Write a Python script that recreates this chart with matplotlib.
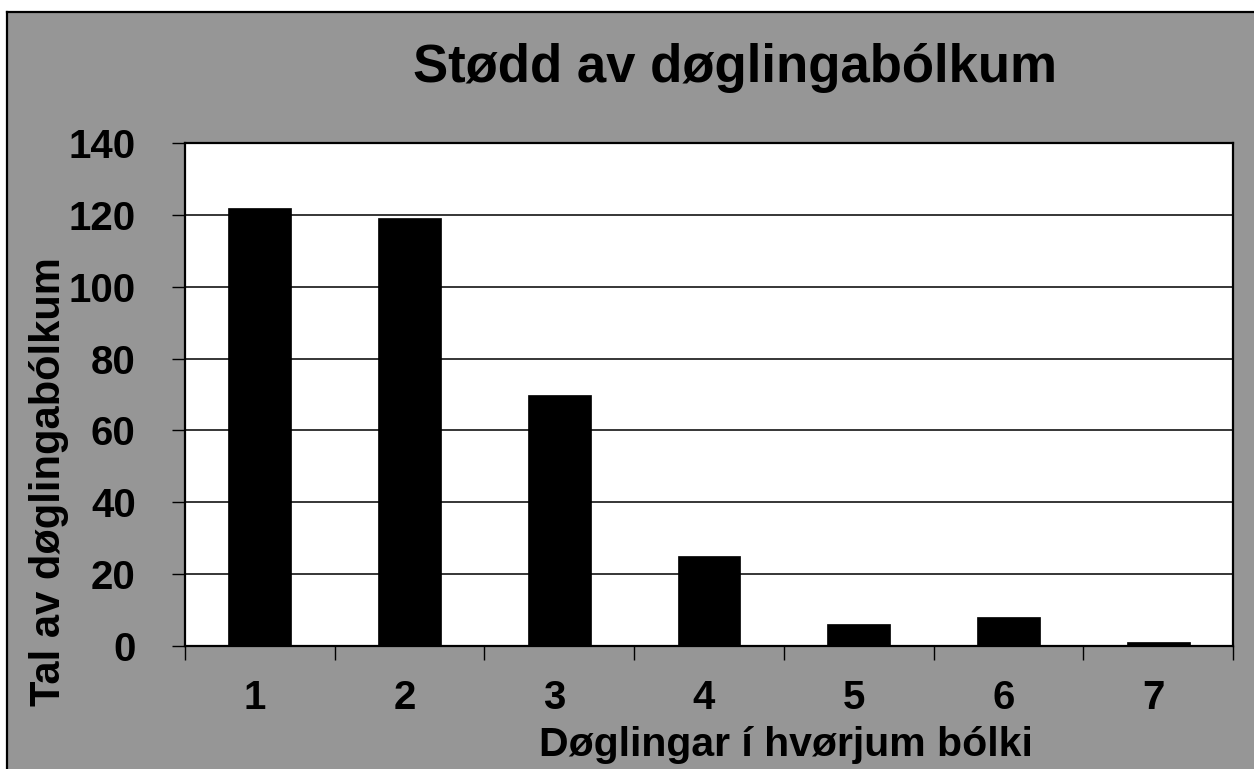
import matplotlib
matplotlib.use("Agg")
import matplotlib.pyplot as plt
from matplotlib.patches import Rectangle
from matplotlib.lines import Line2D
from matplotlib.transforms import ScaledTranslation

categories = ["1", "2", "3", "4", "5", "6", "7"]
values = [122, 119, 70, 25, 6, 8, 1]
yticks = [0, 20, 40, 60, 80, 100, 120, 140]
title = "Stødd av døglingabólkum"
xlabel = "Døglingar í hvørjum bólki"
ylabel = "Tal av døglingabólkum"

W, H = 1254, 769
GRAY = "#969696"
plt.rcParams['font.family'] = ['Liberation Sans', 'DejaVu Sans']
plt.rcParams['font.weight'] = 'bold'

fig = plt.figure(figsize=(W / 100, H / 100), dpi=100, facecolor="white")

# gray chart area with border on left and top
bx = 7 / W
ty = (H - 12) / H
fig.patches.append(Rectangle((bx, 0), 1 - bx + 0.01, ty, transform=fig.transFigure,
                             facecolor=GRAY, edgecolor="none", zorder=-2))
fig.lines.append(Line2D([bx, bx], [0, ty], transform=fig.transFigure, color="black", lw=1.6, zorder=-1))
fig.lines.append(Line2D([bx, 1], [ty, ty], transform=fig.transFigure, color="black", lw=1.6, zorder=-1))

left, right, top, bottom = 185, 1233, 143, 646
ax = fig.add_axes([left / W, (H - bottom) / H, (right - left) / W, (bottom - top) / H])
ax.set_zorder(5)
ax.set_facecolor("white")

x = list(range(1, len(categories) + 1))
ax.bar(x, values, width=0.42, color="black", edgecolor="black", linewidth=0.5, zorder=3)

ax.set_xlim(0.5, len(categories) + 0.5)
ax.set_ylim(0, 140)
ax.set_yticks(yticks)
ax.set_yticklabels([str(v) for v in yticks], fontsize=29, fontweight='bold')
ax.yaxis.grid(True, color="black", linewidth=1.1, zorder=1)
ax.set_axisbelow(True)

ax.set_xticks([i + 0.5 for i in range(0, len(categories) + 1)])
ax.set_xticklabels([])
ax.set_xticks(x, minor=True)
ax.set_xticklabels(categories, minor=True, fontsize=29, fontweight='bold')
ax.tick_params(axis='x', which='major', length=10, width=1.0, direction='out')
ax.tick_params(axis='x', which='minor', length=0, pad=24)
ax.tick_params(axis='y', which='major', length=9.5, width=1.0, direction='out', pad=26)

shift = ScaledTranslation(-5 / 100, 0, fig.dpi_scale_trans)
for lbl in ax.get_xticklabels(minor=True):
    lbl.set_transform(lbl.get_transform() + shift)

for s in ax.spines.values():
    s.set_color("black")
    s.set_linewidth(1.6)

fig.text(735 / W, (H - 82) / H, title, ha='center', va='baseline', fontsize=38, fontweight='bold')
fig.text(786 / W, (H - 756) / H, xlabel, ha='center', va='baseline', fontsize=29.5, fontweight='bold')
fig.text(49 / W, (H - 482) / H, ylabel, ha='center', va='center', rotation=90, fontsize=30, fontweight='bold')

fig.savefig("out.png", dpi=100, facecolor=fig.get_facecolor())
